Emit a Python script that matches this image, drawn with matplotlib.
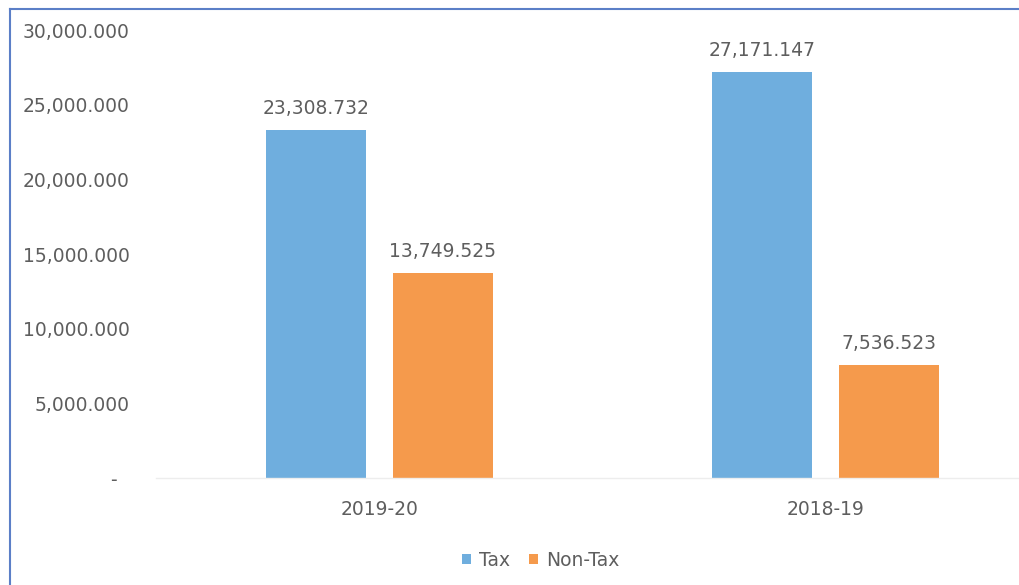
import matplotlib
matplotlib.use("Agg")
import matplotlib.pyplot as plt
from matplotlib.lines import Line2D
import numpy as np

categories = ["2019-20", "2018-19"]
series_names = ["Tax", "Non-Tax"]
tax = [23308.732, 27171.147]
non_tax = [13749.525, 7536.523]
y_ticks = [0, 5000, 10000, 15000, 20000, 25000, 30000]

colors = ["#6FAEDE", "#F59A4C"]
text_col = "#5E5E5E"
plt.rcParams['font.family'] = ['DejaVu Sans']
fs = 13.5

W, H = 1020, 585
fig = plt.figure(figsize=(W/100, H/100), dpi=100)
fig.patch.set_facecolor("white")

left = 156 / W
right = 1049 / W
bottom = 1 - 478 / H
top = 1 - 30 / H
ax = fig.add_axes([left, bottom, right - left, top - bottom])

x = np.arange(len(categories))
bw = 100 / 446.5
off = 63.5 / 446.5
bars_t = ax.bar(x - off, tax, width=bw, color=colors[0], label=series_names[0])
bars_n = ax.bar(x + off, non_tax, width=bw, color=colors[1], label=series_names[1])

for bars, vals in ((bars_t, tax), (bars_n, non_tax)):
    for b, v in zip(bars, vals):
        ax.annotate(f"{v:,.3f}", (b.get_x() + b.get_width()/2, v),
                    xytext=(0, 12), textcoords="offset pixels",
                    ha="center", va="bottom", fontsize=fs, color=text_col)

ax.set_xlim(-0.5, 1.5)
ax.set_ylim(0, 30000)
ax.set_yticks(y_ticks)
ax.set_yticklabels(["-  " if v == 0 else f"{v:,.3f}" for v in y_ticks])
ax.set_xticks(x)
ax.set_xticklabels(categories)
ax.tick_params(axis="both", length=0, labelsize=fs, labelcolor=text_col)
ax.tick_params(axis="y", pad=19)
ax.tick_params(axis="x", pad=16)
for s in ["top", "right", "left"]:
    ax.spines[s].set_visible(False)
ax.spines["bottom"].set_color("#EDEDED")
ax.spines["bottom"].set_linewidth(1)

fig.legend(handles=[bars_t, bars_n], labels=series_names, loc="center",
           bbox_to_anchor=(541 / W, 1 - 560 / H), ncol=2, frameon=False,
           fontsize=fs, labelcolor=text_col, handlelength=0.45, handleheight=0.45,
           handletextpad=0.45, columnspacing=1.0)

bc = "#5B7FC7"
fig.add_artist(Line2D([10 / W, 10 / W], [0, 1 - 9 / H], transform=fig.transFigure,
                      color=bc, linewidth=1.5))
fig.add_artist(Line2D([10 / W, 1], [1 - 9 / H, 1 - 9 / H], transform=fig.transFigure,
                      color=bc, linewidth=1.5))

fig.savefig("out.png", dpi=100, facecolor="white")
